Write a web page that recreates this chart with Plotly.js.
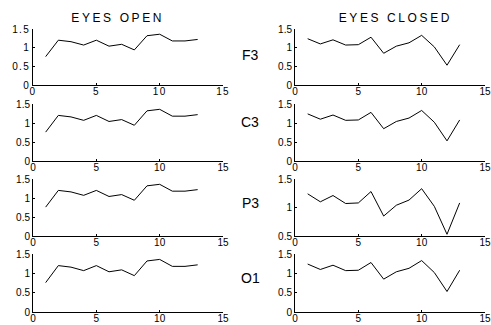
<!DOCTYPE html>
<html>
<head>
<meta charset="utf-8">
<script src="https://cdn.plot.ly/plotly-3.0.1.min.js"></script>
<style>
html, body { margin: 0; padding: 0; background: #fff; }
#chart { width: 491px; height: 325px; }
#chart g.xtick text, #chart g.ytick text { letter-spacing: 1.3px; }
#chart g.annotation text.coltitle { letter-spacing: 2.6px; }
</style>
</head>
<body>
<div id="chart"></div>
<script>
// Data
const samples = [1, 2, 3, 4, 5, 6, 7, 8, 9, 10, 11, 12, 13];
const channels = ["F3", "C3", "P3", "O1"];
const columnTitles = ["EYES OPEN", "EYES CLOSED"];
const eyesOpenF3 = [0.76, 1.20, 1.16, 1.07, 1.20, 1.04, 1.09, 0.94, 1.32, 1.36, 1.18, 1.18, 1.22];
const eyesOpenC3 = [0.76, 1.20, 1.16, 1.07, 1.20, 1.04, 1.09, 0.94, 1.32, 1.36, 1.18, 1.18, 1.22];
const eyesOpenP3 = [0.76, 1.20, 1.16, 1.07, 1.20, 1.04, 1.09, 0.94, 1.32, 1.36, 1.18, 1.18, 1.22];
const eyesOpenO1 = [0.76, 1.20, 1.16, 1.07, 1.20, 1.04, 1.09, 0.94, 1.32, 1.36, 1.18, 1.18, 1.22];
const eyesClosedF3 = [1.24, 1.10, 1.21, 1.07, 1.08, 1.28, 0.85, 1.04, 1.13, 1.33, 1.02, 0.53, 1.08];
const eyesClosedC3 = [1.24, 1.10, 1.21, 1.07, 1.08, 1.28, 0.85, 1.04, 1.13, 1.33, 1.02, 0.53, 1.08];
const eyesClosedP3 = [1.24, 1.10, 1.21, 1.07, 1.08, 1.28, 0.85, 1.04, 1.13, 1.33, 1.02, 0.53, 1.08];
const eyesClosedO1 = [1.24, 1.10, 1.21, 1.07, 1.08, 1.28, 0.85, 1.04, 1.13, 1.33, 1.02, 0.53, 1.08];
const xTicks = [0, 5, 10, 15];
const yTicksFull = [0, 0.5, 1, 1.5];
const yTicksP3Closed = [0.5, 1, 1.5];

const openSeries = [eyesOpenF3, eyesOpenC3, eyesOpenP3, eyesOpenO1];
const closedSeries = [eyesClosedF3, eyesClosedC3, eyesClosedP3, eyesClosedO1];

// Layout geometry (pixels)
const W = 491, H = 325;
const colX = [[33, 223], [295, 485]];
const rowY = [[29, 85], [104, 161], [179, 236], [254, 312]];
const labelY = [55, 122, 203, 278];

const font = { family: "Liberation Sans, Arial, sans-serif", size: 10, color: "#000" };
const traces = [];
const layout = {
  width: W, height: H,
  margin: { l: 0, r: 0, t: 0, b: 0 },
  paper_bgcolor: "#fff", plot_bgcolor: "#fff",
  showlegend: false,
  font: font,
  annotations: []
};

for (let r = 0; r < 4; r++) {
  for (let c = 0; c < 2; c++) {
    const i = r * 2 + c + 1;
    const sfx = i === 1 ? "" : String(i);
    const ys = c === 0 ? openSeries[r] : closedSeries[r];
    traces.push({
      x: samples, y: ys, type: "scatter", mode: "lines",
      line: { color: "#000", width: 1 },
      xaxis: "x" + sfx, yaxis: "y" + sfx, hoverinfo: "skip"
    });
    const isP3Closed = (r === 2 && c === 1);
    layout["xaxis" + sfx] = {
      domain: [colX[c][0] / W, colX[c][1] / W],
      anchor: "y" + sfx,
      range: [0, 15], tickvals: xTicks,
      showgrid: false, zeroline: false,
      showline: true, linecolor: "#000", linewidth: 1,
      ticks: "inside", ticklen: 2, tickcolor: "#000",
      ticklabelstandoff: -3,
      tickfont: font, fixedrange: true
    };
    layout["yaxis" + sfx] = {
      domain: [1 - rowY[r][1] / H, 1 - rowY[r][0] / H],
      anchor: "x" + sfx,
      range: isP3Closed ? [0.5, 1.5] : [0, 1.5],
      tickvals: isP3Closed ? yTicksP3Closed : yTicksFull,
      showgrid: false, zeroline: false,
      showline: true, linecolor: "#000", linewidth: 1,
      ticks: "inside", ticklen: 2, tickcolor: "#000",
      tickfont: font, fixedrange: true
    };
  }
  layout.annotations.push({
    text: channels[r], xref: "paper", yref: "paper",
    x: 250 / W, y: 1 - labelY[r] / H, xanchor: "center", yanchor: "middle",
    showarrow: false, font: { family: "Liberation Sans, Arial, sans-serif", size: 14, color: "#000" }
  });
}
layout.annotations.push({
  text: columnTitles[0], xref: "paper", yref: "paper",
  x: 117 / W, y: 1 - 17.5 / H, xanchor: "center", yanchor: "middle",
  showarrow: false, font: { family: "Liberation Sans, Arial, sans-serif", size: 12, color: "#000" }
});
layout.annotations.push({
  text: columnTitles[1], xref: "paper", yref: "paper",
  x: 395 / W, y: 1 - 17.5 / H, xanchor: "center", yanchor: "middle",
  showarrow: false, font: { family: "Liberation Sans, Arial, sans-serif", size: 12, color: "#000" }
});

Plotly.newPlot("chart", traces, layout, { displayModeBar: false, staticPlot: true }).then(function (gd) {
  // mark column titles so the stylesheet widens them like the reference
  gd.querySelectorAll("g.annotation text").forEach(function (t) {
    if (columnTitles.indexOf(t.textContent) >= 0) t.classList.add("coltitle");
  });
});
</script>
</body>
</html>
